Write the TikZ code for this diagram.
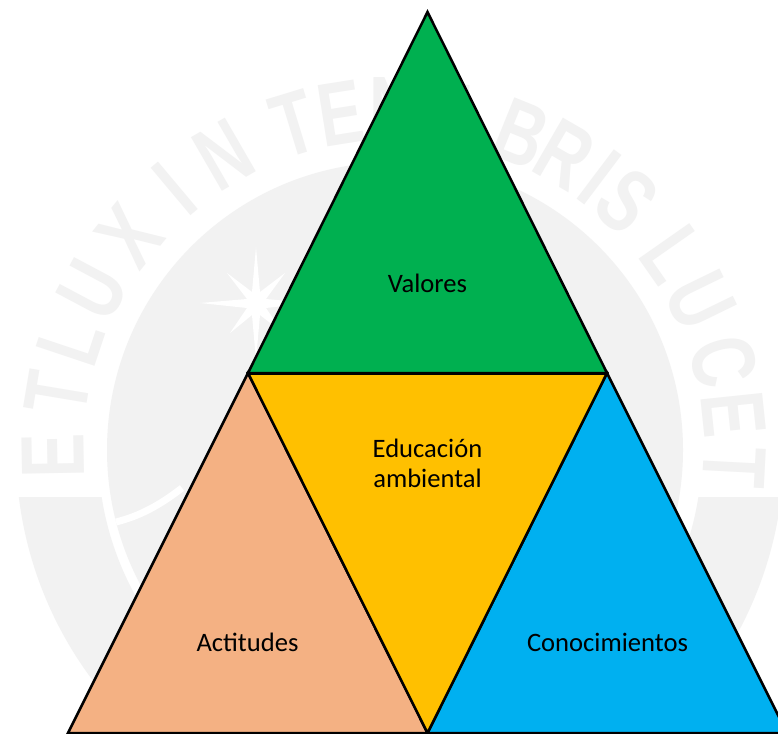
\documentclass[tikz,border=0pt]{standalone}
\usepackage{fontspec}
\usetikzlibrary{calc}
\setmainfont{Carlito}
\newfontfamily\wmfont{Liberation Sans}
\definecolor{wm}{HTML}{F2F2F2}
\definecolor{cgreen}{HTML}{00B050}
\definecolor{corange}{HTML}{FFC000}
\definecolor{cblue}{HTML}{00B0F0}
\definecolor{cpeach}{HTML}{F4B183}
\tikzset{
  tri/.style={draw=black,line width=2.5pt,line join=miter,miter limit=3},
  lbl/.style={text=black,font=\fontsize{26.6}{29.5}\selectfont,align=center,inner sep=0pt},
  wmletter/.style={text=wm,font=\wmfont\fontsize{90}{90}\selectfont,inner sep=0pt,xscale=.74}
}
\begin{document}
\begin{tikzpicture}[x=1pt,y=-1pt]
\useasboundingbox (0,0) rectangle (778,733);
\clip (0,0) rectangle (778,733);
\fill[white] (0,0) rectangle (778,733);
% watermark
\coordinate (c) at (394,450);
\fill[wm,even odd rule] (400,450) circle[radius=384] (400,450) circle[radius=302];
\fill[white] (0,0) rectangle (778,497);
\fill[wm] (395,450) circle[radius=288];
\draw[white,line width=7pt] (116,522) .. controls (140,516) and (160,505) .. (182,488);
\fill[white] (256,247) -- (260,292) -- (285,273) -- (266,299) -- (310,303) -- (266,308) -- (283,333) -- (260,315) -- (256,360) -- (252,315) -- (230,333) -- (247,308) -- (200,303) -- (247,299) -- (227,273) -- (252,292) -- cycle;
\foreach \ch/\a in {E/181,T/170.5,L/161.5,U/152,X/141,I/130,N/120,T/107,E/99,N/90,E/81,B/68,R/60,I/53,S/47,L/35,U/26,C/15,E/6,T/-3}{
  \node[rotate=\a-90,wmletter] at ($(c)+(\a:341 and -341)$) {\bfseries\ch};
}
% triangles
\coordinate (top) at (427.5,12);
\coordinate (ml) at (248,373);
\coordinate (mr) at (607,373);
\coordinate (bl) at (68,733);
\coordinate (bm) at (427.5,733);
\coordinate (br) at (787,733);
\draw[tri,fill=cpeach] (ml) -- (bm) -- (bl) -- cycle;
\draw[tri,fill=cblue] (mr) -- (br) -- (bm) -- cycle;
\draw[tri,fill=corange] (ml) -- (mr) -- (bm) -- cycle;
\draw[tri,fill=cgreen] (top) -- (mr) -- (ml) -- cycle;
\draw[black,line width=3pt] (ml) -- (mr);
\node[lbl] (valores) at (427.5,283) {Valores};
\node[lbl] (edu) at (427.5,463.5) {Educación\\ambiental};
\node[lbl] (act) at (247.5,642.5) {Actitudes};
\node[lbl] (con) at (607.5,642.5) {Conocimientos};
\end{tikzpicture}
\end{document}
